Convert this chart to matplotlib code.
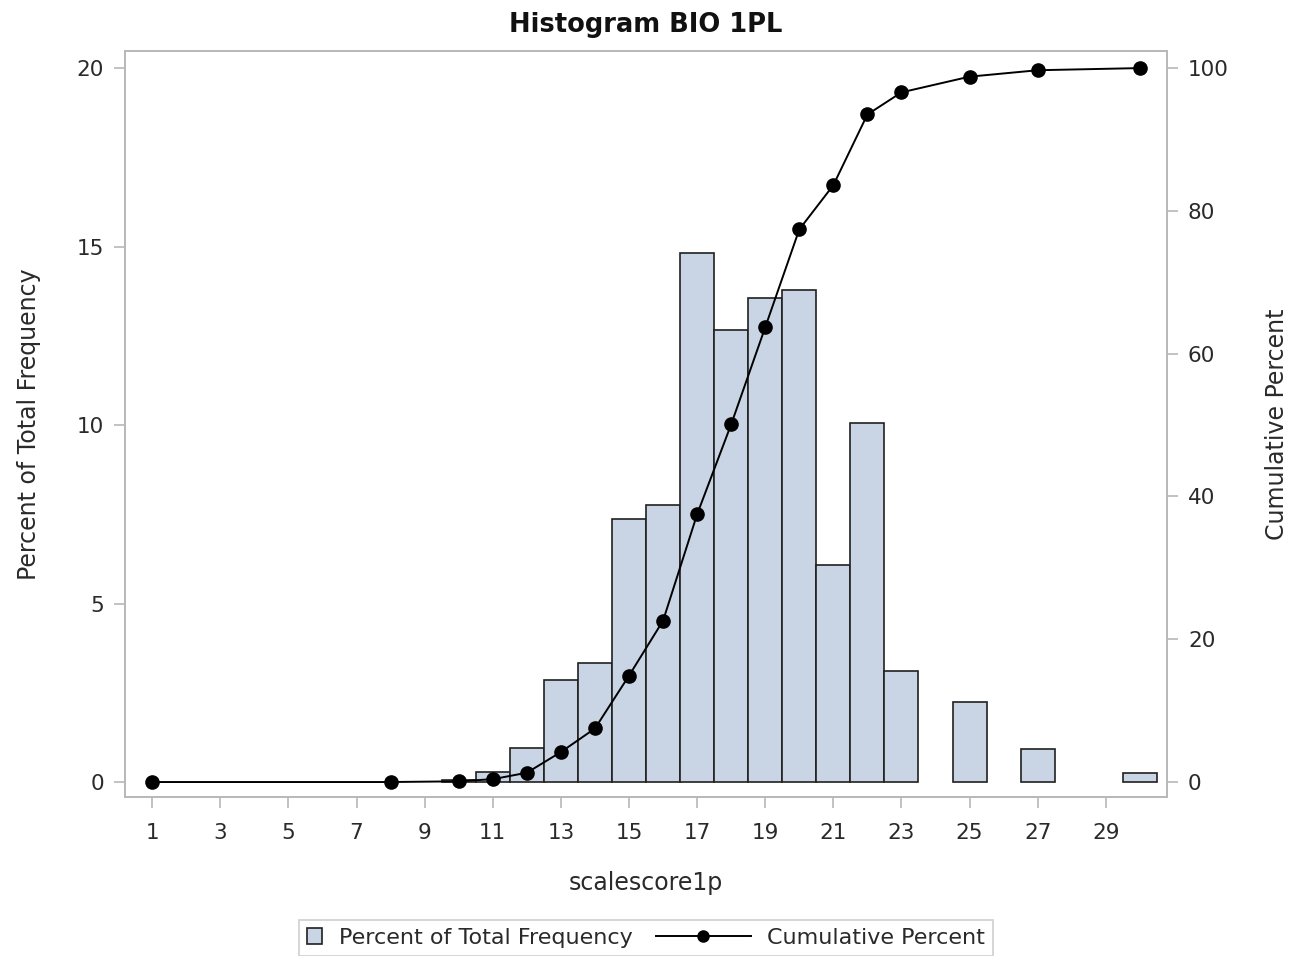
import numpy as np
import matplotlib
matplotlib.use('Agg')
import matplotlib.pyplot as plt
from matplotlib.lines import Line2D
from matplotlib.legend_handler import HandlerBase

plt.rcParams['font.family'] = ['DejaVu Sans']

# histogram: score value -> percent of total frequency
scores = [1, 8, 10, 11, 12, 13, 14, 15, 16, 17, 18, 19, 20, 21, 22, 23, 25, 27, 30]
percent = [0.0, 0.0, 0.07, 0.27, 0.95, 2.86, 3.33, 7.37, 7.76, 14.83, 12.66,
           13.57, 13.77, 6.08, 10.06, 3.11, 2.25, 0.92, 0.26]
cum_percent = [0.0, 0.0, 0.1, 0.4, 1.3, 4.2, 7.5, 14.9, 22.6, 37.5, 50.1,
               63.7, 77.4, 83.6, 93.5, 96.6, 98.8, 99.7, 100.0]

xticks = list(range(1, 30, 2))

bar_color = '#C9D4E4'
grey = '#B8B8B8'
txt = '#2a2a2a'


class HandlerLongLine(HandlerBase):
    # line-with-dot legend key that reaches further left than the handle box
    def __init__(self, extra):
        super().__init__()
        self.extra = extra

    def create_artists(self, legend, orig_handle, xdescent, ydescent, width, height, fontsize, trans):
        x0 = -xdescent - self.extra
        x1 = -xdescent + width
        y = -ydescent + height / 2
        line = Line2D([x0, x1], [y, y], color='black', linewidth=1.4, transform=trans)
        dot = Line2D([(x0 + x1) / 2], [y], marker='o', markersize=8, color='black',
                     linestyle='none', transform=trans)
        return [line, dot]


fig = plt.figure(figsize=(12.93, 9.56), dpi=100)
ax = fig.add_axes([0.0967, 0.1663, 0.8059, 0.7804])
ax2 = ax.twinx()

# zero-count bins have no visible bar
bx = [s for s, p in zip(scores, percent) if p > 0]
bh = [p for p in percent if p > 0]
ax.bar(bx, bh, width=1.0, color=bar_color, edgecolor='#202020', linewidth=1.2, zorder=2)
ax2.plot(scores, cum_percent, color='black', linewidth=1.4, marker='o', markersize=9.5, zorder=3)

ax.set_xlim(0.2, 30.8)
ax.set_ylim(-0.42, 20.48)
ax2.set_ylim(-2.1, 102.4)

ax.set_xticks(xticks)
ax.set_yticks([0, 5, 10, 15, 20])
ax2.set_yticks([0, 20, 40, 60, 80, 100])

for a in (ax, ax2):
    for s in a.spines.values():
        s.set_color(grey)
        s.set_linewidth(1.2)
    a.tick_params(colors=grey, labelcolor=txt, labelsize=15.5, length=8, width=1.2, pad=7)
ax.tick_params(axis='x', pad=11)

ax.set_xlabel('scalescore1p', fontsize=17, color=txt, labelpad=20)
ax.set_ylabel('Percent of Total Frequency', fontsize=17, color=txt, labelpad=26)
ax2.set_ylabel('Cumulative Percent', fontsize=17, color=txt, labelpad=26)
ax.set_title('Histogram BIO 1PL', fontsize=18.5, fontweight='bold', pad=14, color='#111111')

ax.set_zorder(ax2.get_zorder() - 1)
ax.patch.set_visible(True)
ax2.patch.set_visible(False)

h1 = plt.Rectangle((0, 0), 1, 1, facecolor=bar_color, edgecolor='#202020', linewidth=1.2)
h2 = Line2D([], [], color='black')
leg = fig.legend([h1, h2], ['Percent of Total Frequency', 'Cumulative Percent'],
                 loc='center', bbox_to_anchor=(0.4996, 0.0188), ncol=2, fontsize=16,
                 frameon=True, fancybox=False, handlelength=0.7, handleheight=0.7,
                 columnspacing=4.6, handletextpad=0.75, borderpad=0.35, borderaxespad=0,
                 handler_map={h2: HandlerLongLine(57)})
leg.get_frame().set_edgecolor('#C4C4C4')
leg.get_frame().set_linewidth(1.2)
for t in leg.get_texts():
    t.set_color(txt)

fig.savefig('out.png', dpi=100)
